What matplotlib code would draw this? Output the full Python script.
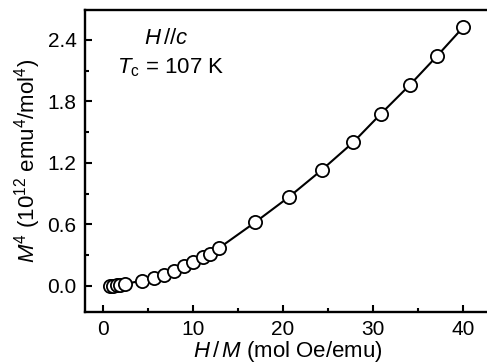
import matplotlib
matplotlib.use("Agg")
import matplotlib.pyplot as plt
from matplotlib.ticker import MultipleLocator

plt.rcParams['font.family'] = ['Liberation Sans', 'DejaVu Sans']
plt.rcParams['mathtext.fontset'] = 'custom'
plt.rcParams['mathtext.rm'] = 'Liberation Sans'
plt.rcParams['mathtext.it'] = 'Liberation Sans:italic'
plt.rcParams['mathtext.bf'] = 'Liberation Sans:bold'

# data: H/M (mol Oe/emu) vs M^4 (10^12 emu^4/mol^4)
h_over_m = [0.78, 1.15, 1.5, 1.9, 2.4, 4.3, 5.7, 6.8, 7.9, 9.0, 10.0, 11.1, 11.9, 12.9,
            16.9, 20.7, 24.3, 27.8, 30.9, 34.1, 37.1, 40.0]
m4 = [0.0, 0.004, 0.008, 0.013, 0.02, 0.05, 0.08, 0.11, 0.15, 0.19, 0.23, 0.28, 0.31, 0.37,
      0.62, 0.87, 1.13, 1.40, 1.68, 1.96, 2.24, 2.52]

xticks = [0, 10, 20, 30, 40]
yticks = [0.0, 0.6, 1.2, 1.8, 2.4]

fig = plt.figure(figsize=(4.87, 3.64), dpi=100)
ax = fig.add_axes([85/487, 1-312/364, 405/487, 302/364])

ax.plot(h_over_m, m4, '-', color='black', lw=1.5, zorder=2)
ax.plot(h_over_m, m4, 'o', ms=9.5, mfc='white', mec='black', mew=1.3, zorder=3)

ax.set_xlim(-2, 43)
ax.set_ylim(-0.254, 2.69)
ax.set_xticks(xticks)
ax.set_xticklabels([str(t) for t in xticks])
ax.set_yticks(yticks)
ax.set_yticklabels([f"{t:.1f}" for t in yticks])
ax.xaxis.set_minor_locator(MultipleLocator(5))
ax.yaxis.set_minor_locator(MultipleLocator(0.3))
ax.tick_params(which='both', direction='in', width=1.5, labelsize=15, top=False, right=False)
ax.tick_params(which='major', length=5, pad=6)
ax.tick_params(which='minor', length=3)
for s in ax.spines.values():
    s.set_linewidth(1.7)

ax.set_xlabel(r"$H\,/\,M$ (mol Oe/emu)", fontsize=16, labelpad=0)
ax.set_ylabel(r"$M^4$ (10$^{12}$ emu$^4$/mol$^4$)", fontsize=16, labelpad=3)

ax.text(0.2, 0.904, r"$H\,//c$", transform=ax.transAxes, fontsize=16, ha='center', va='center')
ax.text(0.079, 0.81, r"$T_{\rm c}$ = 107 K", transform=ax.transAxes, fontsize=16, ha='left', va='center')

fig.savefig("out.png", dpi=100)
